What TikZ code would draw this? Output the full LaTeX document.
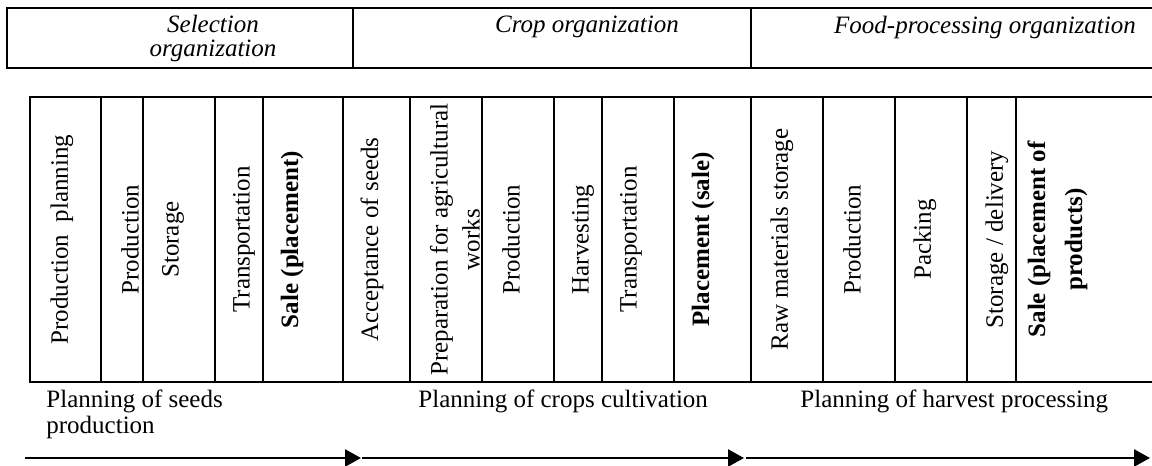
\documentclass[tikz,border=0pt]{standalone}
\usepackage{fontspec}
\setmainfont{Liberation Serif}
\usetikzlibrary{positioning}
\usetikzlibrary{arrows.meta}

\tikzset{
  hcell/.style={rectangle, draw, line width=1.2pt, minimum height=30pt, inner sep=0pt, outer sep=0pt},
  cell/.style={rectangle, draw, line width=1.1pt, minimum height=142.5pt, inner sep=0pt, outer sep=0pt},
  head/.style={inner sep=0pt, align=center, font=\fontsize{12.5}{12}\selectfont\itshape},
  lbl/.style={rotate=90, inner sep=0pt, align=center, font=\fontsize{12.5}{16}\selectfont},
  lblb/.style={lbl, font=\fontsize{12.5}{18.5}\selectfont\bfseries},
  plan/.style={anchor=north west, inner sep=0pt, align=left, font=\fontsize{12.5}{13}\selectfont},
  flow/.style={line width=1.3pt, -{Triangle[length=8pt, width=8.5pt]}}
}

\begin{document}
\begin{tikzpicture}[x=0.5pt, y=-0.5pt]
  \clip (0,0) rectangle (1152,466);

  % Organizations
  \node[hcell, minimum width=173pt] (hsel) at (180,38) {};
  \node[hcell, minimum width=199pt, right=0pt of hsel] (hcrop) {};
  \node[hcell, minimum width=204.5pt, right=0pt of hcrop] (hfood) {};
  \node[head, anchor=north] (tsel) at (213,15) {Selection\\organization};
  \node[head, anchor=north] (tcrop) at (587,16) {Crop organization};
  \node[head, anchor=north] (tfood) at (985,16) {Food-processing organization};

  % Stages
  \node[cell, minimum width=35.5pt] (prodplan) at (65.5,239.5) {};
  \node[cell, minimum width=21pt, right=0pt of prodplan] (prod1) {};
  \node[cell, minimum width=36pt, right=0pt of prod1] (store1) {};
  \node[cell, minimum width=24pt, right=0pt of store1] (trans1) {};
  \node[cell, minimum width=40pt, right=0pt of trans1] (sale1) {};
  \node[cell, minimum width=33.5pt, right=0pt of sale1] (accept) {};
  \node[cell, minimum width=36pt, right=0pt of accept] (prep) {};
  \node[cell, minimum width=36pt, right=0pt of prep] (prod2) {};
  \node[cell, minimum width=24pt, right=0pt of prod2] (harvest) {};
  \node[cell, minimum width=36pt, right=0pt of harvest] (trans2) {};
  \node[cell, minimum width=38.5pt, right=0pt of trans2] (place) {};
  \node[cell, minimum width=36pt, right=0pt of place] (raw) {};
  \node[cell, minimum width=36pt, right=0pt of raw] (prod3) {};
  \node[cell, minimum width=36pt, right=0pt of prod3] (pack) {};
  \node[cell, minimum width=24.5pt, right=0pt of pack] (deliver) {};
  \node[cell, minimum width=72pt, right=0pt of deliver] (sale3) {};

  % Stage labels
  \node[lbl] (tprodplan) at ([xshift=-1.75pt]prodplan.center) {Production\ \ planning};
  \node[lbl] (tprod1) at ([xshift=4pt]prod1.center) {Production};
  \node[lbl] (tstore1) at ([xshift=-3pt]store1.center) {Storage};
  \node[lbl] (ttrans1) at ([xshift=2.5pt]trans1.center) {Transportation};
  \node[lblb] (tsale1) at ([xshift=-5.5pt]sale1.center) {Sale (placement)};
  \node[lbl] (taccept) at ([xshift=-2.25pt]accept.center) {Acceptance of seeds};
  \node[lbl] (tprep) at ([xshift=4.5pt]prep.center) {Preparation for agricultural\\works};
  \node[lbl] (tprod2) at ([xshift=-3.5pt]prod2.center) {Production};
  \node[lbl] (tharvest) at ([xshift=2.5pt]harvest.center) {Harvesting};
  \node[lbl] (ttrans2) at ([xshift=-3.5pt]trans2.center) {Transportation};
  \node[lblb] (tplace) at ([xshift=-4.75pt]place.center) {Placement (sale)};
  \node[lbl] (traw) at ([xshift=-2.5pt]raw.center) {Raw materials storage};
  \node[lbl] (tprod3) at ([xshift=-3.5pt]prod3.center) {Production};
  \node[lbl] (tpack) at ([xshift=-3pt]pack.center) {Packing};
  \node[lbl] (tdeliver) at ([xshift=2.75pt]deliver.center) {Storage / delivery};
  \node[lblb] (tsale3) at ([xshift=-15.25pt]sale3.center) {Sale (placement of\\products)};

  % Planning
  \node[plan] (pseeds) at (46,389) {Planning of seeds\\production};
  \node[plan] (pcrops) at (418,389) {Planning of crops cultivation};
  \node[plan] (pharvest) at (800,389) {Planning of harvest processing};

  % Flow
  \coordinate (f0) at (25,458);
  \coordinate (f1) at (361,458);
  \coordinate (g1) at (362,458);
  \coordinate (f2) at (744,458);
  \coordinate (g2) at (746,458);
  \coordinate (f3) at (1150,458);
  \draw[flow] (f0) -- (f1);
  \draw[flow] (g1) -- (f2);
  \draw[flow] (g2) -- (f3);

\end{tikzpicture}
\end{document}
